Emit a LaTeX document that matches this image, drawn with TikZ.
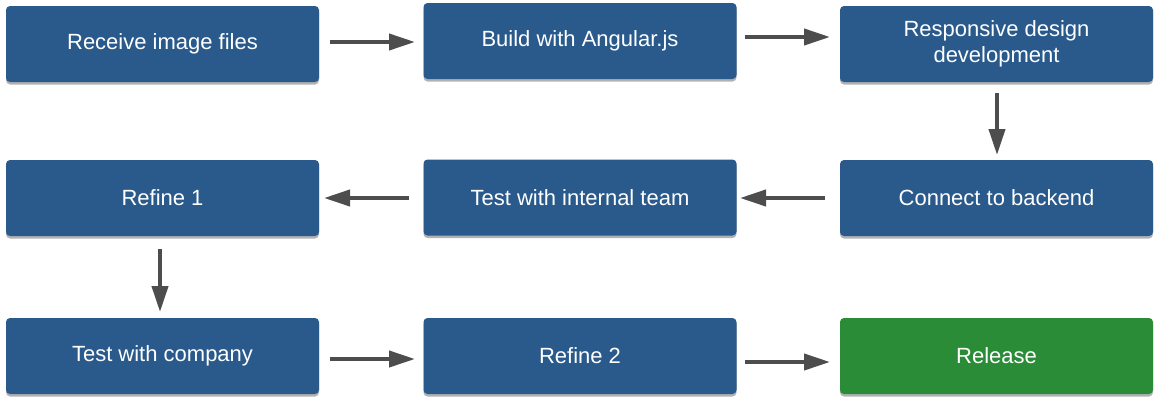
\documentclass[tikz,border=0pt]{standalone}
\usepackage{fontspec}
\setmainfont{Liberation Sans}
\usetikzlibrary{shadows,arrows.meta}
\definecolor{boxblue}{HTML}{295A8B}
\definecolor{boxgreen}{HTML}{2A8C36}
\definecolor{arrgray}{HTML}{4D4D4D}
\tikzset{
  stepbox/.style={fill=boxblue, rounded corners=4pt, minimum width=313pt, minimum height=76pt,
    inner sep=0pt, text=white, align=center, font=\fontsize{22}{26.5}\selectfont,
    drop shadow={shadow xshift=0pt, shadow yshift=-2.5pt, opacity=0.3, fill=black}},
  donebox/.style={stepbox, fill=boxgreen},
  flow/.style={draw=arrgray, line width=4pt, -{Triangle[length=26pt,width=16pt]}}
}
\begin{document}
\begin{tikzpicture}[x=1pt,y=-1pt]
\useasboundingbox (0,0) rectangle (1160,405);
\node[stepbox] (a) at (162.5,44) {Receive image files};
\node[stepbox] (b) at (580,41) {Build with Angular.js};
\node[stepbox] (c) at (996.5,44) {Responsive design\\development};
\node[stepbox] (d) at (996.5,198) {Connect to backend};
\node[stepbox] (e) at (580,197.5) {Test with internal team};
\node[stepbox] (f) at (162.5,198) {Refine 1};
\node[stepbox] (g) at (162.5,356) {Test with company};
\node[stepbox] (h) at (580,356) {Refine 2};
\node[donebox] (i) at (996.5,356) {Release};
\coordinate (ab1) at (330,42); \coordinate (ab2) at (415,42);
\coordinate (bc1) at (745,37); \coordinate (bc2) at (830,37);
\coordinate (cd1) at (997,93); \coordinate (cd2) at (997,155);
\coordinate (de1) at (825,198); \coordinate (de2) at (740,198);
\coordinate (ef1) at (409,198); \coordinate (ef2) at (324,198);
\coordinate (fg1) at (160,249); \coordinate (fg2) at (160,312);
\coordinate (gh1) at (330,359); \coordinate (gh2) at (415,359);
\coordinate (hi1) at (745,362); \coordinate (hi2) at (830,362);
\draw[flow] (ab1) -- (ab2);
\draw[flow] (bc1) -- (bc2);
\draw[flow] (cd1) -- (cd2);
\draw[flow] (de1) -- (de2);
\draw[flow] (ef1) -- (ef2);
\draw[flow] (fg1) -- (fg2);
\draw[flow] (gh1) -- (gh2);
\draw[flow] (hi1) -- (hi2);
\end{tikzpicture}
\end{document}
